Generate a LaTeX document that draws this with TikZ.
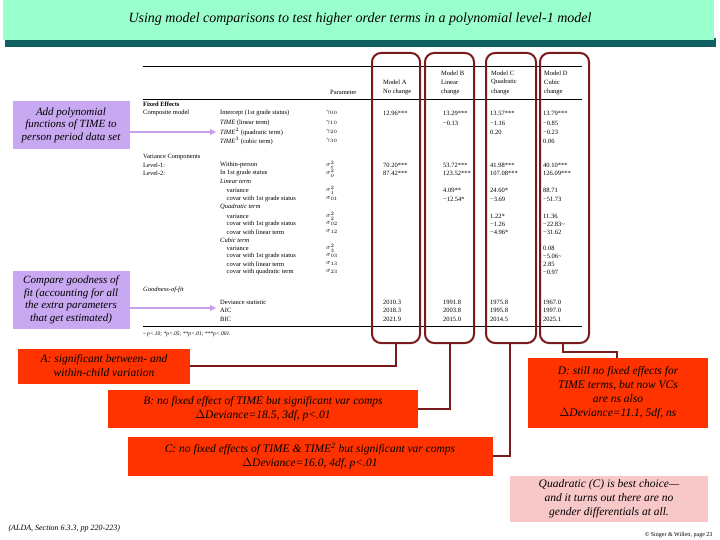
\documentclass[tikz,border=0pt]{standalone}
\usepackage{fontspec}
\setmainfont{Liberation Serif}
\usetikzlibrary{arrows.meta}
\definecolor{mint}{HTML}{99FFCC}
\definecolor{teal}{HTML}{0F6060}
\definecolor{maroon}{HTML}{7A1A1A}
\definecolor{calred}{HTML}{FF3300}
\definecolor{lav}{HTML}{C8A8F0}
\definecolor{lavline}{HTML}{C8A0E8}
\definecolor{pinkb}{HTML}{F8C8C8}
\tikzset{
 tx/.style={anchor=west,inner sep=0pt,font=\fontsize{6.5}{7}\selectfont},
 redcol/.style={draw=maroon,line width=2pt,rounded corners=9pt},
 conn/.style={draw=maroon,line width=2pt},
 callout/.style={fill=calred,inner sep=2pt,align=center,font=\fontsize{11.5}{14}\selectfont\itshape},
 lavbox/.style={fill=lav,inner sep=2pt,align=center,font=\fontsize{11}{12.5}\selectfont\itshape},
 lavarrow/.style={draw=lavline,line width=1.5pt,-{Triangle[length=6pt,width=6pt]}}
}
\newcommand\trow[8]{%
 \node[tx] at (143,#1){#2};\node[tx] at (220,#1){#3};\node[tx] at (326,#1){#4};
 \node[tx] at (383,#1){#5};\node[tx] at (443,#1){#6};\node[tx] at (490,#1){#7};\node[tx] at (543,#1){#8};}
\begin{document}
\begin{tikzpicture}[x=1pt,y=-1pt]
\useasboundingbox (0,0) rectangle (720,540);
\fill[white] (0,0) rectangle (720,540);
% title
\fill[teal] (5,38) rectangle (716,47);
\fill[mint] (3,0) rectangle (714,40);
\node[font=\fontsize{14}{16}\selectfont\itshape] (title) at (360,19) {Using model comparisons to test higher order terms in a polynomial level-1 model};
% table rules
\draw[line width=0.8pt] (143,66) -- (582,66);
\draw[line width=0.4pt] (143,99) -- (582,99);
\draw[line width=0.8pt] (143,326) -- (582,326);
% header
\node[tx] at (330,92){Parameter};
\node[tx] at (383,82){Model A};\node[tx] at (383,92){No change};
\node[tx] at (441,73){Model B};\node[tx] at (441,82){Linear};\node[tx] at (441,92){change};
\node[tx] at (491,73){Model C};\node[tx] at (491,82){Quadratic};\node[tx] at (491,92){change};
\node[tx] at (544,73){Model D};\node[tx] at (544,82){Cubic};\node[tx] at (544,92){change};
% rows
\trow{104}{\textbf{Fixed Effects}}{}{}{}{}{}{}
\trow{113}{Composite model}{Intercept (1st grade status)}{$\gamma_{00}$}{12.96***}{13.29***}{13.57***}{13.79***}
\trow{123}{}{\textit{TIME} (linear term)}{$\gamma_{10}$}{}{−0.13}{−1.16}{−0.85}
\trow{132}{}{\textit{TIME}$^2$ (quadratic term)}{$\gamma_{20}$}{}{}{0.20}{−0.23}
\trow{141}{}{\textit{TIME}$^3$ (cubic term)}{$\gamma_{30}$}{}{}{}{0.06}
\trow{157}{Variance Components}{}{}{}{}{}{}
\trow{165}{Level-1:}{Within-person}{$\sigma^2_\varepsilon$}{70.20***}{53.72***}{41.98***}{40.10***}
\trow{173}{Level-2:}{In 1st grade status}{$\sigma^2_0$}{87.42***}{123.52***}{107.08***}{126.09***}
\trow{181}{}{\textit{Linear term}}{}{}{}{}{}
\trow{190}{}{\quad variance}{$\sigma^2_1$}{}{4.09**}{24.60*}{88.71}
\trow{199}{}{\quad covar with 1st grade status}{$\sigma_{01}$}{}{−12.54*}{−3.69}{−51.73}
\trow{207}{}{\textit{Quadratic term}}{}{}{}{}{}
\trow{216}{}{\quad variance}{$\sigma^2_2$}{}{}{1.22*}{11.36}
\trow{224}{}{\quad covar with 1st grade status}{$\sigma_{02}$}{}{}{−1.26}{−22.83\textasciitilde}
\trow{232}{}{\quad covar with linear term}{$\sigma_{12}$}{}{}{−4.96*}{−31.62}
\trow{240}{}{\textit{Cubic term}}{}{}{}{}{}
\trow{248}{}{\quad variance}{$\sigma^2_3$}{}{}{}{0.08}
\trow{256}{}{\quad covar with 1st grade status}{$\sigma_{03}$}{}{}{}{−5.06\textasciitilde}
\trow{264}{}{\quad covar with linear term}{$\sigma_{13}$}{}{}{}{2.85}
\trow{272}{}{\quad covar with quadratic term}{$\sigma_{23}$}{}{}{}{−0.97}
\trow{290}{\textit{Goodness-of-fit}}{}{}{}{}{}{}
\trow{302}{}{Deviance statistic}{}{2010.3}{1991.8}{1975.8}{1967.0}
\trow{310}{}{AIC}{}{2018.3}{2003.8}{1995.8}{1997.0}
\trow{319}{}{BIC}{}{2021.9}{2015.0}{2014.5}{2025.1}
\node[tx,font=\fontsize{5.5}{6}\selectfont\itshape] (fn) at (143,334){\textasciitilde\,p<.10; *p<.05; **p<.01; ***p<.001.};
% red column outlines
\draw[redcol] (372,53) rectangle (420,343);
\draw[redcol] (425,53) rectangle (474,343);
\draw[redcol] (486,53) rectangle (536,343);
\draw[redcol] (540,53) rectangle (589,343);
\coordinate (ca) at (396,343);\coordinate (cb) at (450,343);
\coordinate (cc) at (510,343);\coordinate (cd) at (563,343);
% lavender callouts
\node[lavbox,minimum width=117pt,minimum height=48pt] (add) at (71,125) {Add polynomial\\functions of \textit{TIME} to\\person period data set};
\coordinate (addt) at (216,132);
\draw[lavarrow] (add.east |- addt) -- (addt);
\node[lavbox,minimum width=117pt,minimum height=58pt] (cmp) at (71,300) {Compare goodness of\\fit (accounting for all\\the extra parameters\\that get estimated)};
\coordinate (cmpt) at (216,308);
\draw[lavarrow] (cmp.east |- cmpt) -- (cmpt);
% red callouts
\node[callout,minimum width=172pt,minimum height=35pt] (A) at (104,366) {A: significant between- and\\within-child variation};
\node[callout,minimum width=310pt,minimum height=38pt] (B) at (263,409) {B: no fixed effect of \textit{TIME} but significant var comps\\$\Delta$Deviance=18.5, 3df, p<.01};
\node[callout,minimum width=365pt,minimum height=39pt] (C) at (310,456) {C: no fixed effects of \textit{TIME} \& \textit{TIME}\textsuperscript{2} but significant var comps\\$\Delta$Deviance=16.0, 4df, p<.01};
\node[callout,minimum width=180pt,minimum height=70pt] (D) at (618,393) {D: still no fixed effects for\\\textit{TIME} terms, but now VCs\\are ns also\\$\Delta$Deviance=11.1, 5df, ns};
\node[fill=pinkb,align=center,inner sep=2pt,minimum width=198pt,minimum height=46pt,font=\fontsize{11.5}{14}\selectfont\itshape] (Q) at (609,499) {Quadratic (C) is best choice---\\and it turns out there are no\\gender differentials at all.};
% connectors
\draw[conn] (ca) |- (A.east);
\draw[conn] (cb) |- (B.east);
\draw[conn] (cc) |- (C.east);
\draw[conn] (cd) -- (563,352) -| (D.north -| 617,0);
\node[anchor=west,font=\fontsize{8}{9}\selectfont\itshape] (src) at (5,529) {(ALDA, Section 6.3.3, pp 220-223)};
\node[anchor=east,font=\fontsize{6}{7}\selectfont] (cp) at (716,535) {© Singer \& Willett, page 23};
\end{tikzpicture}
\end{document}
